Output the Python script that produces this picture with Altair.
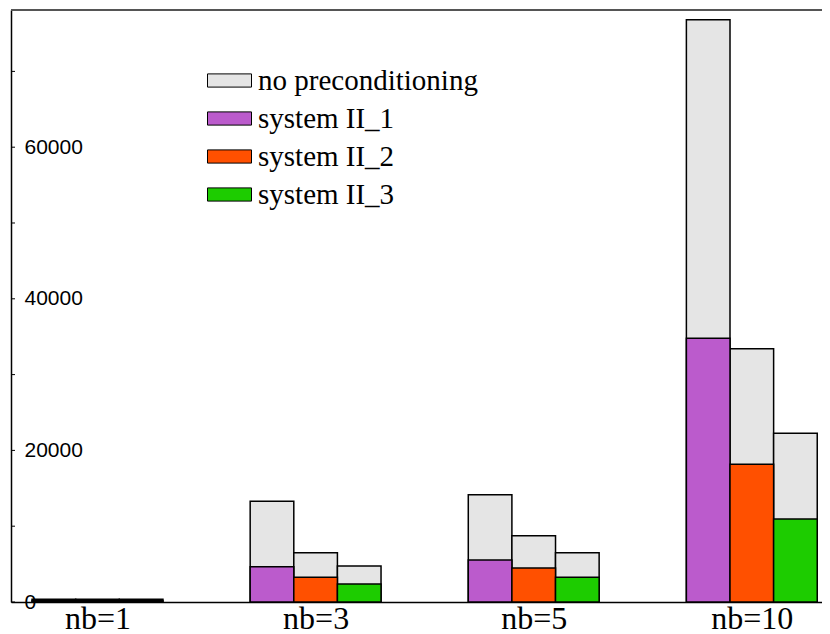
import altair as alt
import pandas as pd

groups = ["nb=1", "nb=3", "nb=5", "nb=10"]
series = ["system II_1", "system II_2", "system II_3"]
no_precond = [[350, 350, 350], [13300, 6500, 4750], [14150, 8750, 6500], [76800, 33400, 22260]]
system_vals = [[200, 200, 200], [4660, 3260, 2370], [5540, 4490, 3260], [34800, 18170, 10950]]
legend_names = ["no preconditioning"] + series
colors = ["#e5e5e5", "#bb5bcc", "#ff5000", "#1dcc00"]
y_ticks = [0, 10000, 20000, 30000, 40000, 50000, 60000, 70000]
y_labels = [0, 20000, 40000, 60000]

PLOT_W = 811
PLOT_H = 592
BAR_W = 0.2
rows = []
for gi, g in enumerate(groups):
    for si, s in enumerate(series):
        c = gi + (si - 1) * BAR_W
        rows.append({"group": g, "name": "no preconditioning", "layer": 0,
                     "x0": c - BAR_W / 2, "x1": c + BAR_W / 2, "v": no_precond[gi][si]})
        rows.append({"group": g, "name": s, "layer": 1,
                     "x0": c - BAR_W / 2, "x1": c + BAR_W / 2, "v": system_vals[gi][si]})
df = pd.DataFrame(rows)
ticks_df = pd.DataFrame({"t": y_ticks})

x_scale = alt.Scale(domain=[-0.3966, 3.3218], nice=False, zero=False)
y_scale = alt.Scale(domain=[0, 78100], nice=False)

label_expr = "[" + ",".join("'%s'" % g for g in groups) + "][datum.value]"

x_enc = alt.X("x0:Q", scale=x_scale,
              axis=alt.Axis(values=list(range(len(groups))), labelExpr=label_expr,
                            title=None, grid=False, ticks=False, domain=True,
                            domainColor="black", domainWidth=1.5,
                            labelFont="Liberation Serif", labelFontSize=32,
                            labelColor="black", labelPadding=1, labelFlush=False))
y_enc = alt.Y("v:Q", scale=y_scale,
              axis=alt.Axis(values=y_labels, format="d", title=None, grid=False, ticks=False,
                            domain=True, domainColor="black", domainWidth=1.5,
                            labelAlign="left", labelPadding=-13,
                            labelFont="Liberation Sans", labelFontSize=21,
                            labelColor="black", labelFlush=False))

color_enc = alt.Color("name:N", scale=alt.Scale(domain=legend_names, range=colors),
                      legend=alt.Legend(title=None, orient="none", legendX=196, legendY=48,
                                        symbolType="M-1,-0.3H1V0.3H-1Z", symbolSize=1936,
                                        symbolStrokeColor="black", symbolStrokeWidth=1,
                                        symbolOpacity=1,
                                        labelFont="Liberation Serif", labelFontSize=29,
                                        labelColor="black", labelOffset=6,
                                        rowPadding=-4, padding=0, labelLimit=400))

gray = alt.Chart(df).transform_filter("datum.layer == 0").mark_bar(
    stroke="black", strokeWidth=1.5, opacity=1).encode(
    x=x_enc, x2="x1:Q", y=y_enc, y2=alt.datum(0), color=color_enc)
colored = alt.Chart(df).transform_filter("datum.layer == 1").mark_bar(
    stroke="black", strokeWidth=1.5, opacity=1).encode(
    x="x0:Q", x2="x1:Q", y="v:Q", y2=alt.datum(0), color="name:N")
tick_rules = alt.Chart(ticks_df).mark_rule(color="black", strokeWidth=1).encode(
    y=alt.Y("t:Q", scale=y_scale), x=alt.value(0), x2=alt.value(4))
top_line = alt.Chart(ticks_df).mark_rule(color="#555555", strokeWidth=2).encode(
    x=alt.value(0), x2=alt.value(PLOT_W), y=alt.value(0))

chart = alt.layer(gray, colored, tick_rules, top_line).properties(
    width=PLOT_W, height=PLOT_H,
    padding={"left": 3, "top": 2, "right": 0, "bottom": 32},
    autosize="none",
).configure_view(strokeWidth=0)

chart.save("out.html", embed_options={"renderer": "svg", "actions": False})
